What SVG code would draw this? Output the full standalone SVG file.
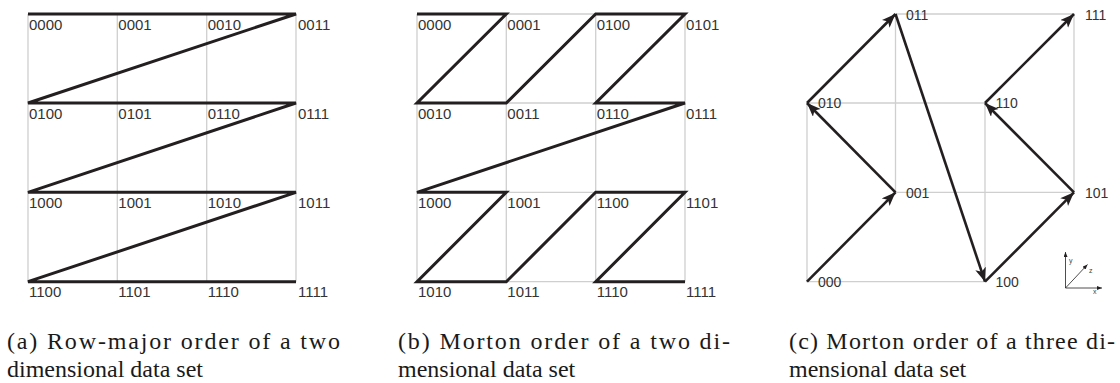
<svg xmlns="http://www.w3.org/2000/svg" width="1120" height="383" viewBox="0 0 1120 383">
<style>
.grid{stroke:#cfcfcf;stroke-width:1.3;fill:none}
.thick{stroke:#231f20;stroke-width:3;fill:none;stroke-linecap:butt}
.arr{stroke:#231f20;stroke-width:2.6;fill:none}
.lbl{font-family:"Liberation Sans",Arial,sans-serif;font-size:15px;fill:#333}
.lblc{font-family:"Liberation Sans",Arial,sans-serif;font-size:14px;fill:#333}
.ax{stroke:#231f20;stroke-width:0.8;fill:none}
.axl{font-family:"Liberation Sans",Arial,sans-serif;font-size:7px;fill:#444}
.cap{font-family:"Liberation Serif","Times New Roman",serif;font-size:24px;fill:#1a1a1a}
</style>
<defs>
<marker id="ah" markerUnits="userSpaceOnUse" markerWidth="15" markerHeight="12" refX="14" refY="5.5" orient="auto">
<path d="M0,0 L14,5.5 L0,11 L3.5,5.5 z" fill="#231f20"/>
</marker>
<marker id="ahs" markerUnits="userSpaceOnUse" markerWidth="6" markerHeight="5" refX="5" refY="2" orient="auto">
<path d="M0,0 L5,2 L0,4 z" fill="#231f20"/>
</marker>
</defs>

<!-- Panel (a) -->
<g id="panel-a-grid">
<path class="grid" d="M28,14V281.7M117.3,14V281.7M206.7,14V281.7M296,14V281.7"/>
</g>
<g id="panel-a-connectors">
<path class="thick" d="M28,14H296L28,103H296L28,192.3H296L28,281.7H296"/>
</g>
<g id="panel-a-labels" class="lbl">
<text x="29" y="30">0000</text><text x="118.3" y="30">0001</text><text x="207.7" y="30">0010</text><text x="298" y="30">0011</text>
<text x="29" y="119">0100</text><text x="118.3" y="119">0101</text><text x="207.7" y="119">0110</text><text x="298" y="119">0111</text>
<text x="29" y="208.3">1000</text><text x="118.3" y="208.3">1001</text><text x="207.7" y="208.3">1010</text><text x="298" y="208.3">1011</text>
<text x="29" y="297.2">1100</text><text x="118.3" y="297.2">1101</text><text x="207.7" y="297.2">1110</text><text x="298" y="297.2">1111</text>
</g>

<!-- Panel (b) -->
<g id="panel-b-grid">
<path class="grid" d="M417,14V281.7M506.3,14V281.7M595.7,14V281.7M685,14V281.7M417,14H685M417,103H685M417,192.3H685M417,281.7H685"/>
</g>
<g id="panel-b-connectors">
<path class="thick" d="M417,14H506.3L417,103H506.3L595.7,14H685L595.7,103H685L417,192.3H506.3L417,281.7H506.3L595.7,192.3H685L595.7,281.7H685"/>
</g>
<g id="panel-b-labels" class="lbl">
<text x="418" y="30">0000</text><text x="507.3" y="30">0001</text><text x="596.7" y="30">0100</text><text x="686" y="30">0101</text>
<text x="418" y="119">0010</text><text x="507.3" y="119">0011</text><text x="596.7" y="119">0110</text><text x="686" y="119">0111</text>
<text x="418" y="208.3">1000</text><text x="507.3" y="208.3">1001</text><text x="596.7" y="208.3">1100</text><text x="686" y="208.3">1101</text>
<text x="418" y="297.2">1010</text><text x="507.3" y="297.2">1011</text><text x="596.7" y="297.2">1110</text><text x="686" y="297.2">1111</text>
</g>

<!-- Panel (c) -->
<g id="panel-c-grid">
<path class="grid" d="M807,103V281.7H985V103H807M895.5,14V192.3H1074V14H895.5"/>
</g>
<g id="panel-c-connectors">
<line class="arr" x1="807" y1="281.7" x2="895.5" y2="192.3" marker-end="url(#ah)"/>
<line class="arr" x1="895.5" y1="192.3" x2="807" y2="103" marker-end="url(#ah)"/>
<line class="arr" x1="807" y1="103" x2="895.5" y2="14" marker-end="url(#ah)"/>
<line class="arr" x1="895.5" y1="14" x2="985" y2="281.7" marker-end="url(#ah)"/>
<line class="arr" x1="985" y1="281.7" x2="1074" y2="192.3" marker-end="url(#ah)"/>
<line class="arr" x1="1074" y1="192.3" x2="985" y2="103" marker-end="url(#ah)"/>
<line class="arr" x1="985" y1="103" x2="1074" y2="14" marker-end="url(#ah)"/>
</g>
<g id="panel-c-labels" class="lblc">
<text x="818" y="287">000</text>
<text x="906" y="197.5">001</text>
<text x="818" y="108">010</text>
<text x="906" y="19.5">011</text>
<text x="995.5" y="287">100</text>
<text x="1085" y="197.5">101</text>
<text x="995.5" y="108">110</text>
<text x="1085" y="19.5">111</text>
</g>
<g id="axes">
<line class="ax" x1="1065.5" y1="288" x2="1065.5" y2="252" marker-end="url(#ahs)"/>
<line class="ax" x1="1065.5" y1="288" x2="1102" y2="288" marker-end="url(#ahs)"/>
<line class="ax" x1="1065.5" y1="288" x2="1087.5" y2="264.5" marker-end="url(#ahs)"/>
<text class="axl" x="1069" y="263">y</text>
<text class="axl" x="1089" y="273">z</text>
<text class="axl" x="1093" y="294">x</text>
</g>

<!-- Captions -->
<g id="captions" class="cap">
<text x="7" y="349" textLength="333" lengthAdjust="spacing">(a) Row-major order of a two</text>
<text x="7" y="377">dimensional data set</text>
<text x="398" y="349" textLength="332" lengthAdjust="spacing">(b) Morton order of a two di-</text>
<text x="398" y="377">mensional data set</text>
<text x="789" y="349" textLength="326" lengthAdjust="spacing">(c) Morton order of a three di-</text>
<text x="789" y="377">mensional data set</text>
</g>
</svg>
